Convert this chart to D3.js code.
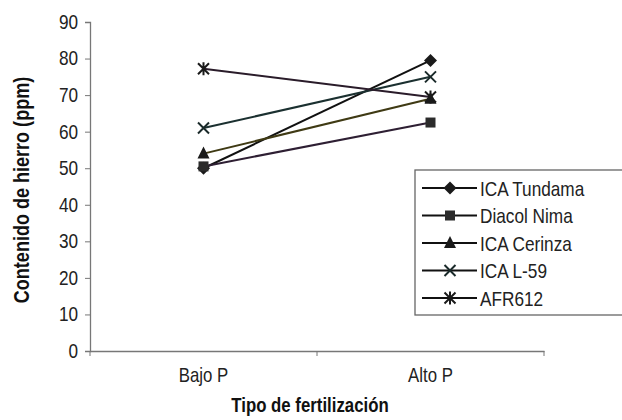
<!DOCTYPE html>
<html>
<head>
<meta charset="utf-8">
<script src="https://cdn.jsdelivr.net/npm/d3@7"></script>
<style>
body { margin: 0; background: #fff; }
text { font-family: "Liberation Sans", Arial, sans-serif; }
</style>
</head>
<body>
<div id="chart"></div>
<script>
var w = 622,
h = 420;

//Data
var categories = ["Bajo P", "Alto P"];
var seriesNames = ["ICA Tundama", "Diacol Nima", "ICA Cerinza", "ICA L-59", "AFR612"];
var tundama = [50, 79.5];
var diacol = [50.5, 62.5];
var cerinza = [54, 69];
var l59 = [61, 75];
var afr612 = [77.2, 69.5];
var yTicks = [0, 10, 20, 30, 40, 50, 60, 70, 80, 90];

var seriesValues = [tundama, diacol, cerinza, l59, afr612];
var lineColors = ["#111111", "#2e1f33", "#3f3a14", "#1b3030", "#2a1c2a"];
var symbols = ["diamond", "square", "triangle", "cross", "asterisk"];

var mLeft = 90, mRight = 544, mTop = 22, mBottom = 351;

var x = d3.scaleBand().domain(categories).range([mLeft, mRight]);
var y = d3.scaleLinear().domain([0, 90]).range([mBottom, mTop]);

var svg = d3.select("#chart").append("svg")
.attr("width", w)
.attr("height", h);

// marker shapes
function drawMarker(g, kind, cx, cy) {
	var s = 6.5;
	if (kind == "diamond") {
		g.append("path")
		.attr("d", "M" + cx + "," + (cy - s) + "L" + (cx + s) + "," + cy + "L" + cx + "," + (cy + s) + "L" + (cx - s) + "," + cy + "Z")
		.attr("fill", "#1a1a1a");
	} else if (kind == "square") {
		g.append("rect")
		.attr("x", cx - 5).attr("y", cy - 5)
		.attr("width", 10).attr("height", 10)
		.attr("fill", "#2b2b2b");
	} else if (kind == "triangle") {
		g.append("path")
		.attr("d", "M" + cx + "," + (cy - 7) + "L" + (cx + 6) + "," + (cy + 5) + "L" + (cx - 6) + "," + (cy + 5) + "Z")
		.attr("fill", "#1a1a1a");
	} else if (kind == "cross") {
		g.append("path")
		.attr("d", "M" + (cx - 5.5) + "," + (cy - 5.5) + "L" + (cx + 5.5) + "," + (cy + 5.5) + "M" + (cx + 5.5) + "," + (cy - 5.5) + "L" + (cx - 5.5) + "," + (cy + 5.5))
		.attr("stroke", "#1a2a2a").attr("stroke-width", 2).attr("fill", "none");
	} else {
		g.append("path")
		.attr("d", "M" + (cx - 5.5) + "," + (cy - 5.5) + "L" + (cx + 5.5) + "," + (cy + 5.5) + "M" + (cx + 5.5) + "," + (cy - 5.5) + "L" + (cx - 5.5) + "," + (cy + 5.5) + "M" + cx + "," + (cy - 6.5) + "L" + cx + "," + (cy + 6.5))
		.attr("stroke", "#1a1a1a").attr("stroke-width", 2).attr("fill", "none");
	}
}

// axes
var yAxis = svg.append("g")
.attr("transform", "translate(" + mLeft + ",0)")
.call(d3.axisLeft(y).tickValues(yTicks).tickSize(5).tickPadding(0));

yAxis.selectAll(".tick text")
.attr("x", null)
.attr("transform", "translate(-12,0) scale(0.86,1)");

var xAxis = svg.append("g")
.attr("transform", "translate(0," + mBottom + ")")
.call(d3.axisBottom(x).tickSize(0).tickPadding(17));

xAxis.selectAll(".tick text")
.attr("transform", "scale(0.84,1)");

// category separator ticks
xAxis.selectAll(".sep")
.data([mLeft, mLeft + x.bandwidth(), mRight])
.enter()
.append("line")
.attr("x1", function(d) { return d; })
.attr("x2", function(d) { return d; })
.attr("y1", 0).attr("y2", 5)
.attr("stroke", "#777");

svg.selectAll(".domain").attr("stroke", "#777").attr("stroke-width", 1.3);
svg.selectAll(".tick line").attr("stroke", "#777");
svg.selectAll(".tick text").attr("font-size", "20px").attr("fill", "#222")
.attr("font-family", "'Liberation Sans', Arial, sans-serif");

// axis titles
svg.append("text")
.attr("transform", "translate(29,190) rotate(-90) scale(0.82,1)")
.attr("text-anchor", "middle")
.attr("font-size", "22px")
.attr("font-weight", "bold")
.attr("fill", "#111")
.text("Contenido de hierro (ppm)");

svg.append("text")
.attr("transform", "translate(310,412) scale(0.82,1)")
.attr("text-anchor", "middle")
.attr("font-size", "20.5px")
.attr("font-weight", "bold")
.attr("fill", "#111")
.text("Tipo de fertilización");

// lines
var line = d3.line()
.x(function(d, i) { return x(categories[i]) + x.bandwidth() / 2; })
.y(function(d) { return y(d); });

seriesValues.forEach(function(vals, k) {
	svg.append("path")
	.datum(vals)
	.attr("d", line)
	.attr("fill", "none")
	.attr("stroke", lineColors[k])
	.attr("stroke-width", 2);
});

seriesValues.forEach(function(vals, k) {
	var g = svg.append("g");
	vals.forEach(function(v, i) {
		drawMarker(g, symbols[k], x(categories[i]) + x.bandwidth() / 2, y(v));
	});
});

// legend
var legend = svg.append("g").attr("transform", "translate(415,170)");
legend.append("rect")
.attr("x", 0).attr("y", 0)
.attr("width", 210).attr("height", 145)
.attr("fill", "#fff")
.attr("stroke", "#666")
.attr("stroke-width", 1.3);

seriesNames.forEach(function(name, i) {
	var cy = 18 + i * 27.5;
	legend.append("line")
	.attr("x1", 7).attr("x2", 62)
	.attr("y1", cy).attr("y2", cy)
	.attr("stroke", "#111").attr("stroke-width", 2);
	drawMarker(legend, symbols[i], 35, cy);
	legend.append("text")
	.attr("transform", "translate(65," + (cy + 7.5) + ") scale(0.82,1)")
	.attr("font-size", "21px")
	.attr("fill", "#222")
	.text(name);
});
</script>
</body>
</html>
